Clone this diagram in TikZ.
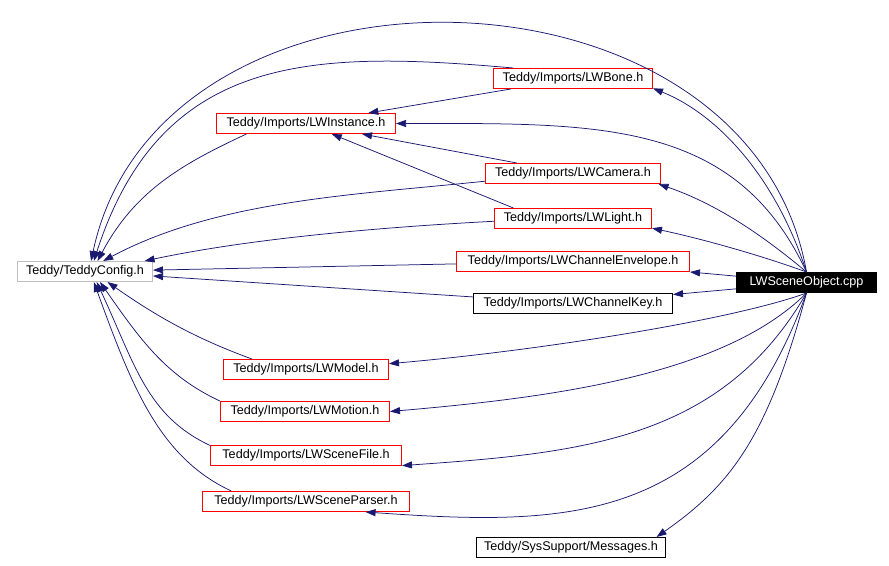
\documentclass[tikz,border=0pt]{standalone}
\usepackage{fontspec}
\setmainfont{Liberation Sans}
\usepackage{tikz}
\usetikzlibrary{arrows.meta}
\definecolor{edgeblue}{HTML}{191970}
\definecolor{cfggray}{HTML}{BFBFBF}

\begin{document}
\begin{tikzpicture}[
  x=1pt, y=1pt,
  font=\fontsize{12.6}{15}\selectfont,
  box/.style={draw, rectangle, line width=1pt, minimum height=20pt, inner sep=0pt, fill=white},
  hdr/.style={box, draw=red},
  plainhdr/.style={box, draw=black},
  cfg/.style={box, draw=cfggray},
  focus/.style={box, draw=black, fill=black, text=white},
  dep/.style={-{Triangle[length=10pt,width=7pt]}, color=edgeblue, line width=0.75pt}
]
  \useasboundingbox (0,0) rectangle (889,-565);

  % files
  \node[cfg, minimum width=135pt] (cfg) at (85,-271.5) {Teddy/TeddyConfig.h};
  \node[focus, minimum width=140pt] (obj) at (806.5,-282.5) {LWSceneObject.cpp};
  \node[hdr, minimum width=159pt] (bone) at (573,-78.5) {Teddy/Imports/LWBone.h};
  \node[hdr, minimum width=179pt] (inst) at (306,-123.5) {Teddy/Imports/LWInstance.h};
  \node[hdr, minimum width=175pt] (cam) at (573,-173.5) {Teddy/Imports/LWCamera.h};
  \node[hdr, minimum width=157pt] (light) at (573,-218.5) {Teddy/Imports/LWLight.h};
  \node[hdr, minimum width=233pt] (env) at (573,-261.5) {Teddy/Imports/LWChannelEnvelope.h};
  \node[plainhdr, minimum width=199pt] (key) at (573,-303.5) {Teddy/Imports/LWChannelKey.h};
  \node[hdr, minimum width=165pt] (model) at (306,-369.5) {Teddy/Imports/LWModel.h};
  \node[hdr, minimum width=169pt] (motion) at (305,-411.5) {Teddy/Imports/LWMotion.h};
  \node[hdr, minimum width=191pt] (scnfile) at (306,-455.5) {Teddy/Imports/LWSceneFile.h};
  \node[hdr, minimum width=207pt] (parser) at (306,-501.5) {Teddy/Imports/LWSceneParser.h};
  \node[plainhdr, minimum width=189pt] (msgs) at (571,-547.5) {Teddy/SysSupport/Messages.h};

  % LWSceneObject.cpp includes
  \draw[dep] (obj.north) .. controls +(100:330) and +(78:330) .. (cfg.60);
  \draw[dep] (obj.north) .. controls +(108:100) and +(-22:70) .. (bone.-7);
  \draw[dep] (obj.north) .. controls +(115:170) and +(0:200) .. (inst.east);
  \draw[dep] (obj.north) .. controls +(140:60) and +(-19:60) .. (cam.-7);
  \draw[dep] (obj.north) .. controls +(160:50) and +(-12:50) .. (light.-7);
  \draw[dep] (obj) -- (env);
  \draw[dep] (obj) -- (key);
  \draw[dep] (obj.south) .. controls +(200:80) and +(5:150) .. (model.4);
  \draw[dep] (obj.south) .. controls +(225:120) and +(5:150) .. (motion.east);
  \draw[dep] (obj.south) .. controls +(240:170) and +(4:180) .. (scnfile.-6);
  \draw[dep] (obj.south) .. controls +(250:250) and +(-4:200) .. (parser.-10);
  \draw[dep] (obj.south) .. controls +(255:150) and +(35:90) .. (msgs.7);

  % headers -> TeddyConfig.h
  \draw[dep] (bone.170) .. controls +(175:200) and +(72:220) .. (cfg.50);
  \draw[dep] (inst.190) .. controls +(205:70) and +(62:80) .. (cfg.40);
  \draw[dep] (cam.185) .. controls +(186:130) and +(28:130) .. (cfg.30);
  \draw[dep] (light.182) .. controls +(183:110) and +(12:110) .. (cfg.10);
  \draw[dep] (env) -- (cfg);
  \draw[dep] (key) -- (cfg);
  \draw[dep] (model.169) .. controls +(160:60) and +(-35:60) .. (cfg.-25);
  \draw[dep] (motion.173) .. controls +(155:60) and +(-55:70) .. (cfg.-35);
  \draw[dep] (scnfile.174) .. controls +(155:70) and +(-65:90) .. (cfg.-42);
  \draw[dep] (parser.172) .. controls +(155:80) and +(-70:110) .. (cfg.-50);

  % into LWInstance.h
  \draw[dep] (bone) -- (inst);
  \draw[dep] (cam) -- (inst);
  \draw[dep] (light.170) -- (inst);
\end{tikzpicture}
\end{document}
